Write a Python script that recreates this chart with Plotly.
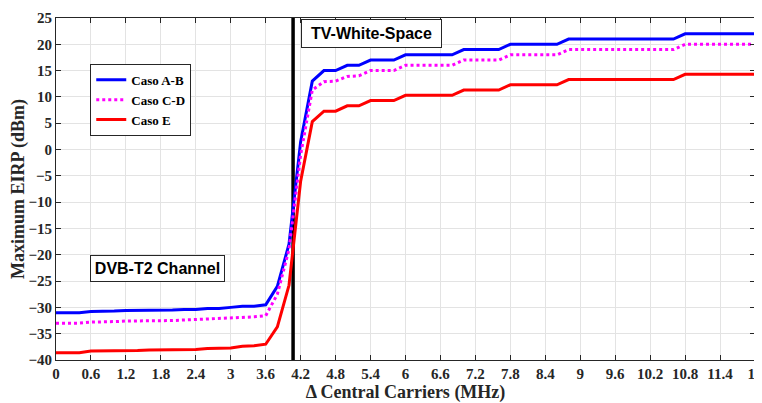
import plotly.graph_objects as go

x_mhz = [0.0, 0.2, 0.4, 0.6, 0.8, 1.0, 1.2, 1.4, 1.6, 1.8, 2.0, 2.2, 2.4, 2.6, 2.8, 3.0,
         3.2, 3.4, 3.6, 3.8, 4.0, 4.2, 4.4, 4.6, 4.8, 5.0, 5.2, 5.4, 5.6, 5.8, 6.0, 6.2,
         6.4, 6.6, 6.8, 7.0, 7.2, 7.4, 7.6, 7.8, 8.0, 8.2, 8.4, 8.6, 8.8, 9.0, 9.2, 9.4,
         9.6, 9.8, 10.0, 10.2, 10.4, 10.6, 10.8, 11.0, 11.2, 11.4, 11.6, 11.8, 12.0]

caso_ab = [-31.0, -31.0, -31.0, -30.8, -30.8, -30.7, -30.6, -30.6, -30.6, -30.5, -30.5, -30.4,
           -30.4, -30.2, -30.2, -30.0, -29.8, -29.8, -29.5, -26.0, -18.0, 1.5, 13.0, 15.0,
           15.0, 16.0, 16.0, 17.0, 17.0, 17.0, 18.0, 18.0, 18.0, 18.0, 18.0, 19.0, 19.0,
           19.0, 19.0, 20.0, 20.0, 20.0, 20.0, 20.0, 21.0, 21.0, 21.0, 21.0, 21.0, 21.0,
           21.0, 21.0, 21.0, 21.0, 22.0, 22.0, 22.0, 22.0, 22.0, 22.0, 22.0]

caso_cd = [-33.0, -33.0, -33.0, -32.8, -32.8, -32.7, -32.6, -32.6, -32.6, -32.5, -32.5, -32.4,
           -32.3, -32.2, -32.2, -32.0, -31.9, -31.8, -31.6, -27.5, -19.0, -1.0, 11.3, 12.9,
           13.0, 13.9, 14.0, 15.0, 15.0, 15.0, 16.0, 16.0, 16.0, 16.0, 16.0, 17.0, 17.0,
           17.0, 17.0, 18.0, 18.0, 18.0, 18.0, 18.0, 19.0, 19.0, 19.0, 19.0, 19.0, 19.0,
           19.0, 19.0, 19.0, 19.0, 20.0, 20.0, 20.0, 20.0, 20.0, 20.0, 20.0]

caso_e = [-38.6, -38.6, -38.6, -38.3, -38.3, -38.2, -38.2, -38.2, -38.1, -38.1, -38.0, -38.0,
          -38.0, -37.8, -37.8, -37.7, -37.4, -37.3, -37.0, -33.7, -25.8, -6.0, 5.3, 7.3,
          7.3, 8.3, 8.3, 9.3, 9.3, 9.3, 10.3, 10.3, 10.3, 10.3, 10.3, 11.3, 11.3,
          11.3, 11.3, 12.3, 12.3, 12.3, 12.3, 12.3, 13.3, 13.3, 13.3, 13.3, 13.3, 13.3,
          13.3, 13.3, 13.3, 13.3, 14.3, 14.3, 14.3, 14.3, 14.3, 14.3, 14.3]

boundary_x = [4.07, 4.07]
boundary_y = [-40, 25]

x_ticks = [0, 0.6, 1.2, 1.8, 2.4, 3, 3.6, 4.2, 4.8, 5.4, 6, 6.6, 7.2, 7.8, 8.4, 9, 9.6,
           10.2, 10.8, 11.4, 12]
x_tick_labels = ["0", "0.6", "1.2", "1.8", "2.4", "3", "3.6", "4.2", "4.8", "5.4", "6", "6.6",
                 "7.2", "7.8", "8.4", "9", "9.6", "10.2", "10.8", "11.4", "12"]
y_ticks = [-40, -35, -30, -25, -20, -15, -10, -5, 0, 5, 10, 15, 20, 25]

serif = "Liberation Serif"
sans = "Liberation Sans"

fig = go.Figure()
fig.add_trace(go.Scatter(x=boundary_x, y=boundary_y, mode="lines",
                         line=dict(color="black", width=3.5), showlegend=False,
                         hoverinfo="skip"))
fig.add_trace(go.Scatter(x=x_mhz, y=caso_ab, mode="lines", name="Caso A-B",
                         line=dict(color="#0000FF", width=3)))
fig.add_trace(go.Scatter(x=x_mhz, y=caso_cd, mode="lines", name="Caso C-D",
                         line=dict(color="#FF00FF", width=3, dash="dot")))
fig.add_trace(go.Scatter(x=x_mhz, y=caso_e, mode="lines", name="Caso E",
                         line=dict(color="#FF0000", width=3)))

axis_common = dict(showline=True, linecolor="#262626", linewidth=1, mirror="ticks",
                   ticks="inside", ticklen=5, tickcolor="#262626", automargin=False,
                   showgrid=True, gridcolor="#E3E3E3", gridwidth=1, zeroline=False,
                   ticklabeloverflow="allow",
                   tickfont=dict(family=serif, size=15, color="#262626", weight="bold"))

fig.update_xaxes(range=[0, 12], tickvals=x_ticks, ticktext=x_tick_labels,
                 title=dict(text="Δ Central Carriers (MHz)",
                            font=dict(family=serif, size=18, color="#262626", weight="bold")),
                 **axis_common)
fig.update_yaxes(range=[-40, 25], tickvals=y_ticks,
                 title=dict(text="Maximum EIRP (dBm)",
                            font=dict(family=serif, size=18, color="#262626", weight="bold")),
                 **axis_common)

fig.add_annotation(x=1.742, y=-22.6, xref="x", yref="y", xanchor="center",
                   yanchor="middle", text="<b>DVB-T2 Channel</b>", showarrow=False,
                   font=dict(family=sans, size=16, color="black"),
                   width=125, height=17,
                   bgcolor="white", bordercolor="#262626", borderwidth=1, borderpad=4)
fig.add_annotation(x=5.42, y=22.15, xref="x", yref="y", xanchor="center",
                   yanchor="middle", text="<b>TV-White-Space</b>", showarrow=False,
                   font=dict(family=sans, size=16, color="black"),
                   width=129, height=17,
                   bgcolor="white", bordercolor="#262626", borderwidth=1, borderpad=5)

# page body adds an 8px offset; figure extends slightly past the window's right edge
# so the last tick label is not clipped by the svg
fig.update_layout(
    width=774, height=395,
    margin=dict(l=48, r=27, t=10, b=43),
    plot_bgcolor="white", paper_bgcolor="white",
    font=dict(family=serif, color="#262626"),
    legend=dict(x=0.049, y=0.866, xanchor="left", yanchor="top",
                bgcolor="white", bordercolor="#262626", borderwidth=1,
                font=dict(family=serif, size=13, color="black", weight="bold"),
                tracegroupgap=0, itemwidth=30),
)

fig.write_html("out.html")
